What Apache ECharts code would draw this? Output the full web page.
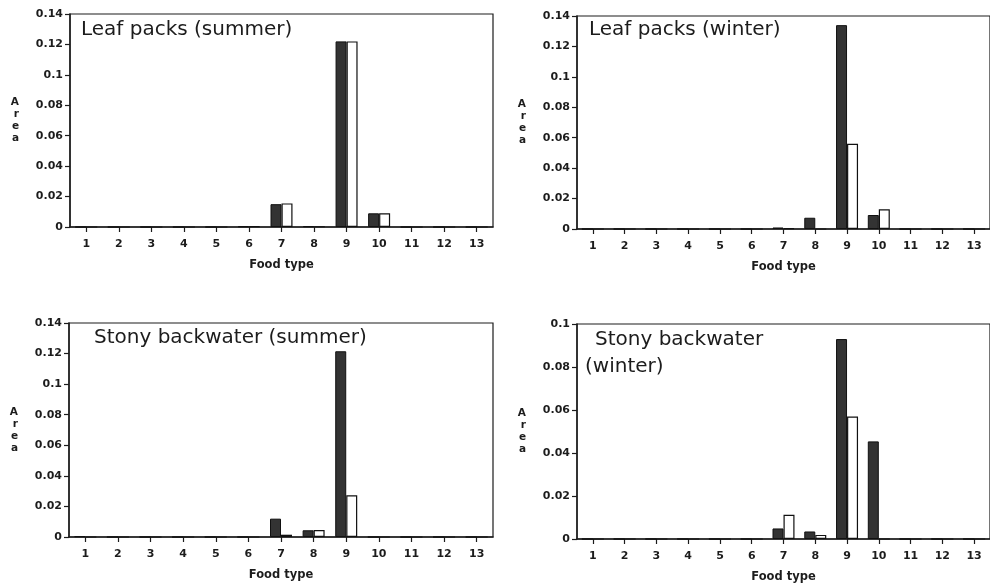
<!DOCTYPE html>
<html>
<head>
<meta charset="utf-8">
<script src="https://cdn.jsdelivr.net/npm/echarts@6/dist/echarts.min.js"></script>
<style>
html,body{margin:0;padding:0;background:#fff;}
#c{width:990px;height:585px;}
</style>
</head>
<body>
<div id="c"></div>
<script>
const categories = ['1','2','3','4','5','6','7','8','9','10','11','12','13'];
const panelTitles = ['Leaf packs (summer)', 'Leaf packs (winter)', 'Stony backwater (summer)', 'Stony backwater', '(winter)'];
const xAxisName = 'Food type';
const yAxisName = 'A\nr\ne\na';
const yMax = [0.14, 0.14, 0.14, 0.1];

const leafSummerDark   = [0, 0, 0, 0, 0, 0.0004, 0.015,  0.0005, 0.122,  0.009,  0, 0, 0];
const leafSummerLight  = [0, 0, 0, 0, 0, 0.0004, 0.0155, 0.0003, 0.122,  0.009,  0, 0, 0];
const leafWinterDark   = [0, 0, 0, 0, 0, 0,      0.001,  0.0074, 0.134,  0.0092, 0, 0, 0];
const leafWinterLight  = [0, 0, 0, 0, 0, 0,      0.0006, 0,      0.056,  0.013,  0, 0, 0];
const stonySummerDark  = [0.0005, 0, 0, 0, 0, 0, 0.012,  0.0044, 0.1215, 0,      0, 0, 0];
const stonySummerLight = [0, 0, 0, 0, 0, 0,      0.0015, 0.0045, 0.0273, 0,      0, 0, 0];
const stonyWinterDark  = [0, 0, 0, 0, 0, 0,      0.0049, 0.0035, 0.093,  0.0454, 0, 0, 0];
const stonyWinterLight = [0, 0, 0, 0, 0, 0,      0.0113, 0.0019, 0.057,  0,      0, 0, 0];

const darkSeries = [leafSummerDark, leafWinterDark, stonySummerDark, stonyWinterDark];
const lightSeries = [leafSummerLight, leafWinterLight, stonySummerLight, stonyWinterLight];

const FONT = 'DejaVu Sans';
const INK = '#1c1c1c';

const grids = [
  {left: 70,  top: 14,  width: 423, height: 213},
  {left: 577, top: 16,  width: 417, height: 213},
  {left: 69,  top: 323, width: 424, height: 214},
  {left: 577, top: 324, width: 413, height: 215}
];

const chart = echarts.init(document.getElementById('c'), null, {renderer: 'canvas'});

const option = {
  animation: false,
  backgroundColor: '#fff',
  title: [
    {text: panelTitles[0], left: 81, top: 20},
    {text: panelTitles[1], left: 589, top: 20},
    {text: panelTitles[2], left: 94, top: 328},
    {text: panelTitles[3], left: 595, top: 330},
    {text: panelTitles[4], left: 585, top: 357}
  ].map(t => Object.assign(t, {padding: 0, textStyle: {fontFamily: FONT, fontSize: 20, fontWeight: 'normal', color: INK}})),
  grid: grids.map(g => Object.assign({}, g, {show: true, borderColor: INK, borderWidth: 1.2, backgroundColor: 'transparent'})),
  xAxis: grids.map((g, i) => ({
    type: 'category',
    gridIndex: i,
    data: categories,
    name: xAxisName,
    nameLocation: 'middle',
    nameGap: 32,
    nameTextStyle: {fontFamily: FONT, fontSize: 11.5, fontWeight: 'bold', color: INK},
    axisLine: {lineStyle: {color: INK, width: 1.5}},
    axisTick: {show: true, alignWithLabel: true, length: 5, lineStyle: {color: INK, width: 1.2}},
    axisLabel: {fontFamily: FONT, fontSize: 11, fontWeight: 'bold', color: INK, margin: 12},
    splitLine: {show: false}
  })),
  yAxis: grids.map((g, i) => ({
    type: 'value',
    gridIndex: i,
    min: 0,
    max: yMax[i],
    interval: 0.02,
    name: yAxisName,
    nameLocation: 'middle',
    nameRotate: 0,
    nameGap: 51,
    nameTextStyle: {fontFamily: FONT, fontSize: 10.5, fontWeight: 'bold', color: INK, lineHeight: 12},
    axisLine: {show: true, lineStyle: {color: INK, width: 1.5}},
    axisTick: {show: true, length: 5, lineStyle: {color: INK, width: 1.2}},
    axisLabel: {fontFamily: FONT, fontSize: 11, fontWeight: 'bold', color: INK, margin: 7},
    splitLine: {show: false}
  })),
  series: []
};

for (let i = 0; i < 4; i++) {
  option.series.push({
    type: 'bar', xAxisIndex: i, yAxisIndex: i,
    data: darkSeries[i], barWidth: 11, barGap: '0%',
    itemStyle: {color: '#333333', borderColor: '#111', borderWidth: 1}
  });
  option.series.push({
    type: 'bar', xAxisIndex: i, yAxisIndex: i,
    data: lightSeries[i], barWidth: 11, barGap: '0%',
    itemStyle: {color: '#ffffff', borderColor: '#111', borderWidth: 1.2}
  });
}

chart.setOption(option);
</script>
</body>
</html>
